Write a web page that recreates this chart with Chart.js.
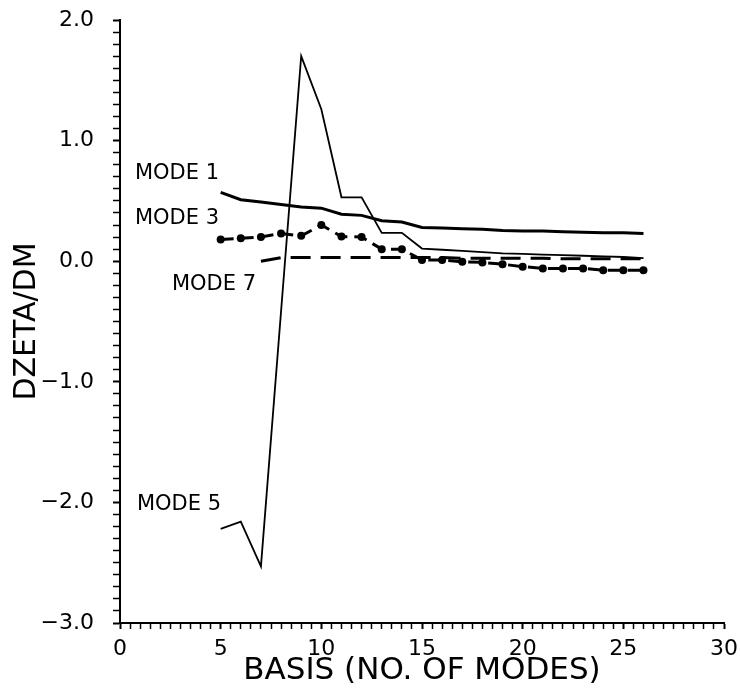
<!DOCTYPE html>
<html>
<head>
<meta charset="utf-8">
<script src="https://cdn.jsdelivr.net/npm/chart.js@4/dist/chart.umd.min.js"></script>
<style>
  html, body { margin: 0; padding: 0; background: #fff; }
  #wrap { width: 740px; height: 690px; }
</style>
</head>
<body>
<div id="wrap"><canvas id="chart" width="740" height="690"></canvas></div>
<script>
(function () {
  'use strict';

  // ============================================================
  //  Data, one value per basis size
  // ============================================================
  var basis = [5, 6, 7, 8, 9, 10, 11, 12, 13, 14, 15, 16, 17, 18, 19, 20, 21, 22, 23, 24, 25, 26];

  var mode1 = [0.57, 0.51, 0.49, 0.47, 0.45, 0.44, 0.39, 0.38, 0.335, 0.325, 0.28, 0.275,
               0.27, 0.265, 0.255, 0.25, 0.25, 0.245, 0.24, 0.235, 0.235, 0.23];

  var mode3 = [0.18, 0.19, 0.20, 0.23, 0.21, 0.30, 0.205, 0.20, 0.10, 0.10, 0.01, 0.01,
               -0.005, -0.01, -0.025, -0.045, -0.06, -0.06, -0.06, -0.075, -0.075, -0.075];

  // no point read at basis 8: the line runs straight from 7 to 9
  var mode5 = [-2.22, -2.16, -2.53, null, 1.70, 1.26, 0.53, 0.53, 0.235, 0.235, 0.105, 0.095,
               0.085, 0.075, 0.065, 0.06, 0.055, 0.05, 0.045, 0.04, 0.035, 0.025];

  var mode7 = [null, null, 0.0, 0.03, 0.03, 0.03, 0.03, 0.03, 0.03, 0.03, 0.03, 0.03,
               0.025, 0.025, 0.025, 0.025, 0.025, 0.02, 0.02, 0.02, 0.02, 0.02];

  var xMajorTicks = [0, 5, 10, 15, 20, 25, 30];
  var yMajorTicks = [-3, -2, -1, 0, 1, 2];

  var modeLabels = ['MODE 1', 'MODE 3', 'MODE 7', 'MODE 5'];

  function pts(ys) {
    var out = [];
    for (var i = 0; i < basis.length; i++) {
      if (ys[i] !== null) out.push({ x: basis[i], y: ys[i] });
    }
    return out;
  }

  var FONT = '"DejaVu Sans", "Liberation Sans", sans-serif';

  // ============================================================
  //  Curve labels, anchored in data units
  // ============================================================
  var labelAnchors = [
    { x: 0.74, y: 0.725 },
    { x: 0.74, y: 0.353 },
    { x: 2.58, y: -0.195 },
    { x: 0.84, y: -2.02 }
  ];

  var curveLabels = {
    id: 'curveLabels',
    afterDatasetsDraw: function (chart) {
      var ctx = chart.ctx;
      var xs = chart.scales.x, ys = chart.scales.y;
      ctx.save();
      ctx.fillStyle = '#000';
      ctx.font = '21px ' + FONT;
      ctx.textAlign = 'left';
      ctx.textBaseline = 'middle';
      modeLabels.forEach(function (txt, i) {
        var a = labelAnchors[i];
        ctx.fillText(txt, xs.getPixelForValue(a.x), ys.getPixelForValue(a.y));
      });
      ctx.restore();
    }
  };

  function isMajor(v, list) {
    for (var i = 0; i < list.length; i++) {
      if (Math.abs(v - list[i]) < 1e-6) return true;
    }
    return false;
  }

  // ============================================================
  //  Chart
  // ============================================================
  new Chart(document.getElementById('chart').getContext('2d'), {
    type: 'line',
    data: {
      datasets: [
        {
          label: 'MODE 1', data: pts(mode1),
          borderColor: '#000', borderWidth: 3, pointRadius: 0, tension: 0
        },
        {
          label: 'MODE 3', data: pts(mode3),
          borderColor: '#000', borderWidth: 3, borderDash: [13, 7], tension: 0,
          pointRadius: 4, pointBackgroundColor: '#000', pointBorderColor: '#000', pointBorderWidth: 0
        },
        {
          label: 'MODE 5', data: pts(mode5),
          borderColor: '#000', borderWidth: 1.8, pointRadius: 0, tension: 0
        },
        {
          label: 'MODE 7', data: pts(mode7),
          borderColor: '#000', borderWidth: 3, borderDash: [20, 10], pointRadius: 0, tension: 0
        }
      ]
    },
    options: {
      responsive: false,
      animation: false,
      devicePixelRatio: 1,
      layout: { padding: { top: 20, right: 16, left: 0, bottom: 0 } },
      plugins: { legend: { display: false }, tooltip: { enabled: false } },
      scales: {
        x: {
          type: 'linear', min: 0, max: 30,
          afterFit: function (s) { s.height = 67; s.paddingLeft = 0; s.paddingRight = 0; },
          border: { display: true, color: '#000', width: 2 },
          grid: {
            drawOnChartArea: false, color: '#000', tickLength: 6,
            tickWidth: function (c) { return isMajor(c.tick.value, xMajorTicks) ? 2 : 1.5; }
          },
          ticks: {
            stepSize: 0.5, autoSkip: false, maxRotation: 0, padding: 7,
            color: '#000', font: { family: FONT, size: 22 },
            callback: function (v) { return isMajor(v, xMajorTicks) ? String(Math.round(v)) : ''; }
          },
          title: {
            display: true, text: 'BASIS (NO. OF MODES)', color: '#000',
            font: { family: FONT, size: 31, lineHeight: 1.2 }, padding: 0
          }
        },
        y: {
          type: 'linear', min: -3, max: 2,
          afterFit: function (s) { s.width = 120; s.paddingTop = 0; s.paddingBottom = 0; },
          border: { display: true, color: '#000', width: 2 },
          grid: {
            drawOnChartArea: false, color: '#000', tickLength: 7,
            tickWidth: function (c) { return isMajor(c.tick.value, yMajorTicks) ? 2 : 1.5; }
          },
          ticks: {
            stepSize: 0.1, autoSkip: false, padding: 19,
            color: '#000', font: { family: FONT, size: 22 },
            callback: function (v) {
              if (!isMajor(v, yMajorTicks)) return '';
              return (v < 0 ? '\u2212' : '') + Math.abs(v).toFixed(1);
            }
          },
          title: {
            display: true, text: 'DZETA/DM', color: '#000',
            font: { family: FONT, size: 30, lineHeight: 1.2 }, padding: { top: 9 }
          }
        }
      }
    },
    plugins: [curveLabels]
  });

})();
</script>
</body>
</html>
